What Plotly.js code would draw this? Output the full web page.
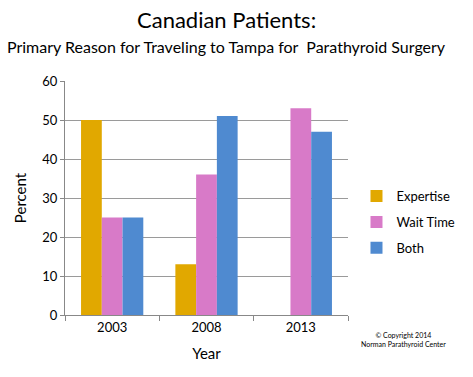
<!DOCTYPE html>
<html><head><meta charset="utf-8">
<script src="https://cdn.plot.ly/plotly-3.0.1.min.js"></script>
<style>body{margin:0;background:#fff}#c{width:473px;height:377px}</style>
</head><body><div id="c"></div>
<script>
const years = ['2003', '2008', '2013'];
const expertise = [50, 13, 0];
const waitTime = [25, 36, 53];
const both = [25, 51, 47];
const seriesNames = ['Expertise', 'Wait Time', 'Both'];
const colors = ['#e1a800', '#d87ac8', '#4f8ad0'];
const F = 'Lato, "Open Sans", sans-serif';
const vals = [expertise, waitTime, both];
const traces = vals.map((v, i) => ({
  type: 'bar', x: years, y: v, name: seriesNames[i], legendgroup: 'g' + i,
  marker: {color: colors[i], line: {width: 0}}
}));
const layout = {
  width: 473, height: 377,
  margin: {l: 65, r: 108, t: 81, b: 62},
  paper_bgcolor: '#fff', plot_bgcolor: '#fff',
  font: {family: F, color: '#000'},
  barmode: 'group', bargap: 0.34, bargroupgap: 0,
  showlegend: true,
  legend: {x: 1.03, y: 0.397, xanchor: 'left', yanchor: 'middle', font: {size: 13, family: F}, tracegroupgap: 6, itemwidth: 30},
  xaxis: {
    type: 'category', showline: true, linecolor: '#888', linewidth: 1,
    ticks: 'outside', tickson: 'boundaries', ticklen: 5, tickcolor: '#888',
    tickfont: {size: 13, family: F},
    title: {text: 'Year', font: {size: 15, family: F}, standoff: 14}
  },
  yaxis: {
    range: [0, 60], dtick: 10, showgrid: true, gridcolor: '#9a9a9a', gridwidth: 1,
    showline: true, linecolor: '#888', ticks: 'outside', ticklen: 4, tickcolor: '#888',
    tickfont: {size: 13, family: F}, zeroline: false,
    title: {text: 'Percent', font: {size: 15, family: F}, standoff: 12}
  },
  annotations: [
    {text: 'Canadian Patients:', xref: 'paper', yref: 'paper', x: 0.5, y: 1, xanchor: 'center', yanchor: 'bottom',
     showarrow: false, font: {size: 22, family: F}, yshift: 46, xshift: 20},
    {text: 'Primary Reason for Traveling to Tampa for  Parathyroid Surgery', xref: 'paper', yref: 'paper', x: 0.5, y: 1,
     xanchor: 'center', yanchor: 'bottom', showarrow: false, font: {size: 16, family: F}, yshift: 23, xshift: 20},
    {text: '© Copyright 2014<br>Norman Parathyroid Center', xref: 'paper', yref: 'paper', x: 1, y: 0,
     xanchor: 'center', yanchor: 'top', showarrow: false, font: {size: 7, family: F}, yshift: -14, xshift: 55, align: 'center'}
  ]
};
Plotly.newPlot('c', traces, layout, {displayModeBar: false, staticPlot: true});
</script></body></html>
